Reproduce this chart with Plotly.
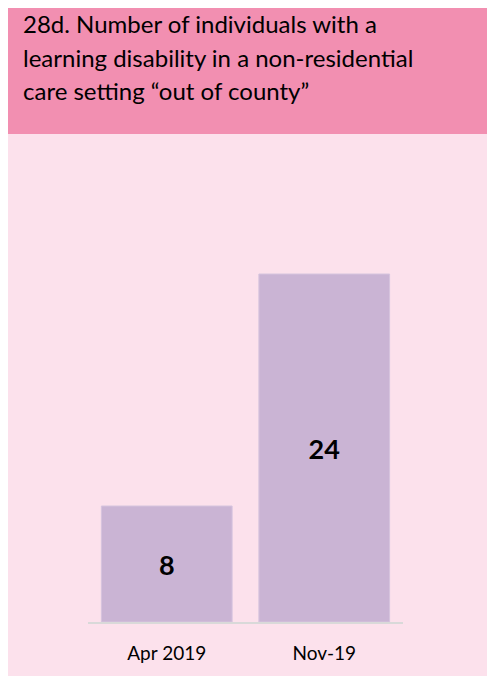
import plotly.graph_objects as go

categories = ["Apr 2019", "Nov-19"]
values = [8, 24]
title_lines = [
    "28d. Number of individuals with a",
    "learning disability in a non-residential",
    "care setting \u201cout of county\u201d",
]

# page body has an 8px margin, so the figure fills the rest of the window
OFF = 8
W, H = 495 - OFF, 676 - OFF


def px(x):
    return (x - OFF) / W


def py(y):
    return 1 - (y - OFF) / H


fig = go.Figure(
    go.Bar(
        x=categories,
        y=values,
        text=values,
        textposition="inside",
        insidetextanchor="middle",
        textfont=dict(family="Lato", size=27, color="#000000", weight="bold"),
        marker=dict(color="#CAB4D4", line=dict(color="#D6C4DE", width=1)),
        hoverinfo="skip",
    )
)

shapes = [
    # light pink panel
    dict(type="rect", xref="paper", yref="paper", x0=0, x1=1, y0=0, y1=1,
         fillcolor="#FCE1EC", line=dict(width=0), layer="below"),
    # header band
    dict(type="rect", xref="paper", yref="paper", x0=0, x1=px(493), y0=py(134), y1=1,
         fillcolor="#F28FB1", line=dict(width=0), layer="below"),
]

annotations = []
for i, line in enumerate(title_lines):
    annotations.append(dict(
        text=line, xref="paper", yref="paper", x=px(21), y=py(24 + 33 * i),
        xanchor="left", yanchor="middle", showarrow=False,
        font=dict(family="Lato", size=24, color="#000000"),
    ))

base_y = 622
top_y = 150
unit = 14.5

fig.update_layout(
    width=W, height=H,
    margin=dict(l=0, r=0, t=0, b=0),
    paper_bgcolor="white",
    plot_bgcolor="rgba(0,0,0,0)",
    showlegend=False,
    bargap=0.17,
    shapes=shapes,
    annotations=annotations,
    xaxis=dict(
        domain=[px(88), px(403)],
        showline=True, linecolor="#D9D9D9", linewidth=1.5,
        showgrid=False, zeroline=False, ticks="",
        ticklabelstandoff=13,
        tickfont=dict(family="Lato", size=19, color="#000000"),
    ),
    yaxis=dict(
        domain=[py(base_y), py(top_y)],
        range=[0, (base_y - top_y) / unit],
        visible=False,
    ),
)

fig.write_html("out.html")
